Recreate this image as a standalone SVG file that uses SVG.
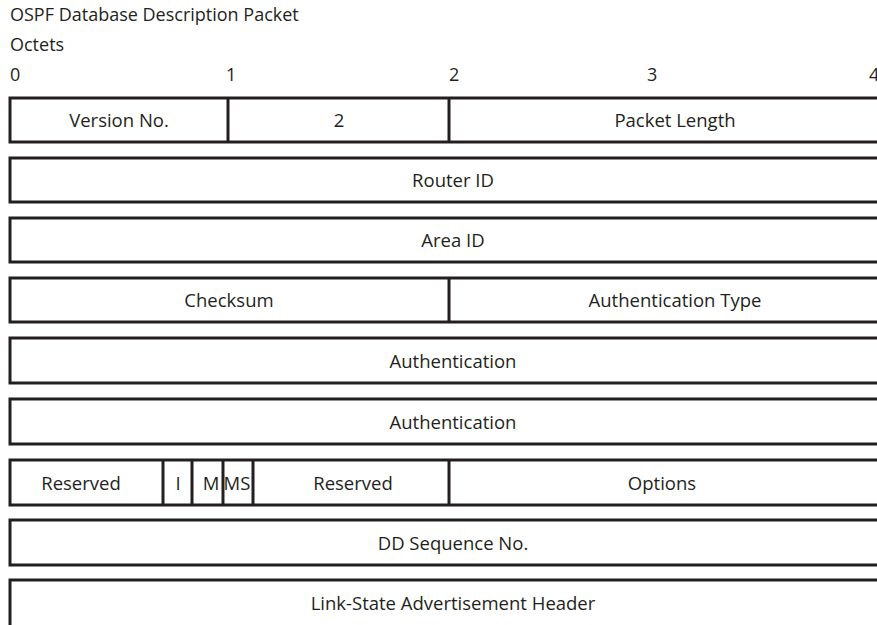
<svg xmlns="http://www.w3.org/2000/svg" width="877" height="625" viewBox="0 0 877 625">
<style>
.t{font-family:"Open Sans","Liberation Sans",sans-serif;font-size:18px;fill:#231f20}
.b{font-family:"Open Sans","Liberation Sans",sans-serif;font-size:18.5px;fill:#231f20;text-anchor:middle}
.box{fill:#fff;stroke:#231f20;stroke-width:3}
.div{stroke:#231f20;stroke-width:3}
</style>
<rect width="877" height="625" fill="#fff"/>
<g id="header">
<text class="t" x="10" y="21">OSPF Database Description Packet</text>
<text class="t" x="10" y="51">Octets</text>
<text class="t" x="10" y="81">0</text>
<text class="t" x="226" y="81">1</text>
<text class="t" x="449" y="81">2</text>
<text class="t" x="647" y="81">3</text>
<text class="t" x="869" y="81">4</text>
</g>
<g id="row1">
<rect class="box" x="10" y="98" width="900" height="44"/>
<line class="div" x1="228" y1="98" x2="228" y2="142"/>
<line class="div" x1="449" y1="98" x2="449" y2="142"/>
<text class="b" x="119" y="127">Version No.</text>
<text class="b" x="339" y="127">2</text>
<text class="b" x="675" y="127">Packet Length</text>
</g>
<g id="row2">
<rect class="box" x="10" y="158" width="900" height="44"/>
<text class="b" x="453" y="187">Router ID</text>
</g>
<g id="row3">
<rect class="box" x="10" y="218" width="900" height="44"/>
<text class="b" x="453" y="247">Area ID</text>
</g>
<g id="row4">
<rect class="box" x="10" y="278" width="900" height="44"/>
<line class="div" x1="449" y1="278" x2="449" y2="322"/>
<text class="b" x="229" y="307">Checksum</text>
<text class="b" x="675" y="307">Authentication Type</text>
</g>
<g id="row5">
<rect class="box" x="10" y="338" width="900" height="45"/>
<text class="b" x="453" y="368">Authentication</text>
</g>
<g id="row6">
<rect class="box" x="10" y="399" width="900" height="45"/>
<text class="b" x="453" y="429">Authentication</text>
</g>
<g id="row7">
<rect class="box" x="10" y="460" width="900" height="45"/>
<line class="div" x1="163" y1="460" x2="163" y2="505"/>
<line class="div" x1="192" y1="460" x2="192" y2="505"/>
<line class="div" x1="223" y1="460" x2="223" y2="505"/>
<line class="div" x1="253" y1="460" x2="253" y2="505"/>
<line class="div" x1="449" y1="460" x2="449" y2="505"/>
<text class="b" x="81" y="490">Reserved</text>
<text class="b" x="178" y="490">I</text>
<text class="b" x="211" y="490">M</text>
<text class="b" x="237" y="490">MS</text>
<text class="b" x="353" y="490">Reserved</text>
<text class="b" x="662" y="490">Options</text>
</g>
<g id="row8">
<rect class="box" x="10" y="520" width="900" height="45"/>
<text class="b" x="453" y="550">DD Sequence No.</text>
</g>
<g id="row9">
<rect class="box" x="10" y="580" width="900" height="80"/>
<text class="b" x="453" y="610">Link-State Advertisement Header</text>
</g>
<g id="connectors"/>
</svg>
